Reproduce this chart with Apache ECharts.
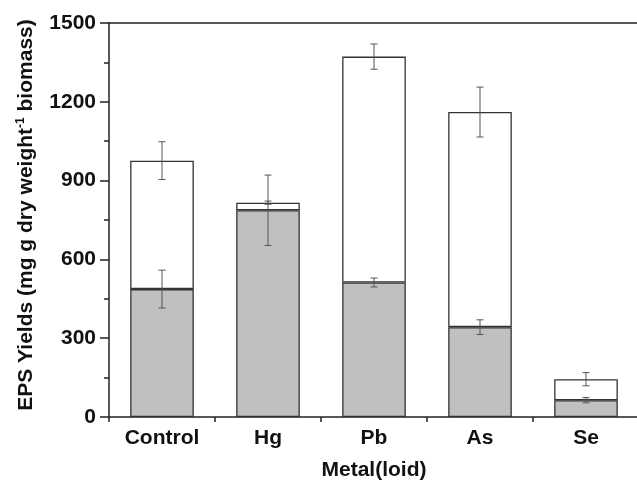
<!DOCTYPE html>
<html>
<head>
<meta charset="utf-8">
<script src="https://cdn.jsdelivr.net/npm/echarts@6/dist/echarts.min.js"></script>
<style>
html,body{margin:0;padding:0;background:#fff;overflow:hidden;}
#chart{width:637px;height:482px;}
</style>
</head>
<body>
<div id="chart"></div>
<script>
const categories = ['Control', 'Hg', 'Pb', 'As', 'Se'];
const grayValues = [487, 787, 512, 342, 64];      // lower (grey) segment
const grayErrors = [72, 134, 17, 28, 10];
const whiteValues = [489, 29, 860, 819, 80];      // upper (white) segment
const whiteErrors = [72, 6, 48, 95, 25];
const yTicks = [0, 300, 600, 900, 1200, 1500];

const totals = grayValues.map((v, i) => v + whiteValues[i]);
const errData = [];
categories.forEach((c, i) => {
  errData.push([i, grayValues[i], grayErrors[i]]);
  errData.push([i, totals[i], whiteErrors[i]]);
});

const FONT = '"Liberation Sans", Arial, sans-serif';
const AX = '#222';
const TXT = '#111';

const chart = echarts.init(document.getElementById('chart'));
chart.setOption({
  animation: false,
  backgroundColor: '#fff',
  grid: { left: 109, top: 23, right: -2, bottom: 65, outerBoundsMode: 'none', containLabel: false },
  xAxis: [
    {
      type: 'category',
      data: categories,
      axisLine: { lineStyle: { color: AX, width: 1.5 } },
      axisTick: { show: true, length: 5, lineStyle: { color: AX, width: 1.5 } },
      axisLabel: { color: TXT, fontFamily: FONT, fontWeight: 'bold', fontSize: 21, margin: 11 },
      name: 'Metal(loid)',
      nameLocation: 'middle',
      nameGap: 43,
      nameTextStyle: { color: TXT, fontFamily: FONT, fontWeight: 'bold', fontSize: 21 }
    },
    {
      type: 'category',
      data: categories,
      position: 'top',
      axisLine: { show: true, lineStyle: { color: AX, width: 1.5 } },
      axisTick: { show: false },
      axisLabel: { show: false }
    }
  ],
  yAxis: {
    type: 'value',
    min: yTicks[0],
    max: yTicks[yTicks.length - 1],
    interval: 300,
    splitLine: { show: false },
    axisLine: { show: true, lineStyle: { color: AX, width: 1.5 } },
    axisTick: { show: true, inside: false, length: 9, lineStyle: { color: AX, width: 1.5 } },
    minorTick: { show: true, splitNumber: 2, length: 5, lineStyle: { color: AX, width: 1.5 } },
    axisLabel: { color: TXT, fontFamily: FONT, fontWeight: 'bold', fontSize: 21, margin: 13,
      formatter: v => String(v) },
    name: 'EPS Yields (mg g dry weight{sup|-1} biomass)',
    nameLocation: 'middle',
    nameGap: 72,
    nameTextStyle: {
      color: TXT, fontFamily: FONT, fontWeight: 'bold', fontSize: 21, padding: [0, 0, 0, 10],
      rich: { sup: { fontSize: 12, fontWeight: 'bold', fontFamily: FONT, color: TXT, verticalAlign: 'top', padding: [0, 0, 10, 0] } }
    }
  },
  series: [
    {
      type: 'bar', stack: 'eps', data: grayValues, barWidth: '60%',
      itemStyle: { color: '#c0c0c0', borderColor: '#333', borderWidth: 1.3 }
    },
    {
      type: 'bar', stack: 'eps', data: whiteValues, barWidth: '60%',
      itemStyle: { color: '#ffffff', borderColor: '#333', borderWidth: 1.3 }
    },
    {
      type: 'custom',
      data: errData,
      z: 10,
      renderItem: function (params, api) {
        const x = api.value(0), y = api.value(1), e = api.value(2);
        const top = api.coord([x, y + e]);
        const bot = api.coord([x, y - e]);
        const w = 3.5;
        const st = { stroke: '#555', lineWidth: 1 };
        return {
          type: 'group',
          children: [
            { type: 'line', shape: { x1: top[0], y1: top[1], x2: bot[0], y2: bot[1] }, style: st },
            { type: 'line', shape: { x1: top[0] - w, y1: top[1], x2: top[0] + w, y2: top[1] }, style: st },
            { type: 'line', shape: { x1: bot[0] - w, y1: bot[1], x2: bot[0] + w, y2: bot[1] }, style: st }
          ]
        };
      }
    }
  ]
});
</script>
</body>
</html>
